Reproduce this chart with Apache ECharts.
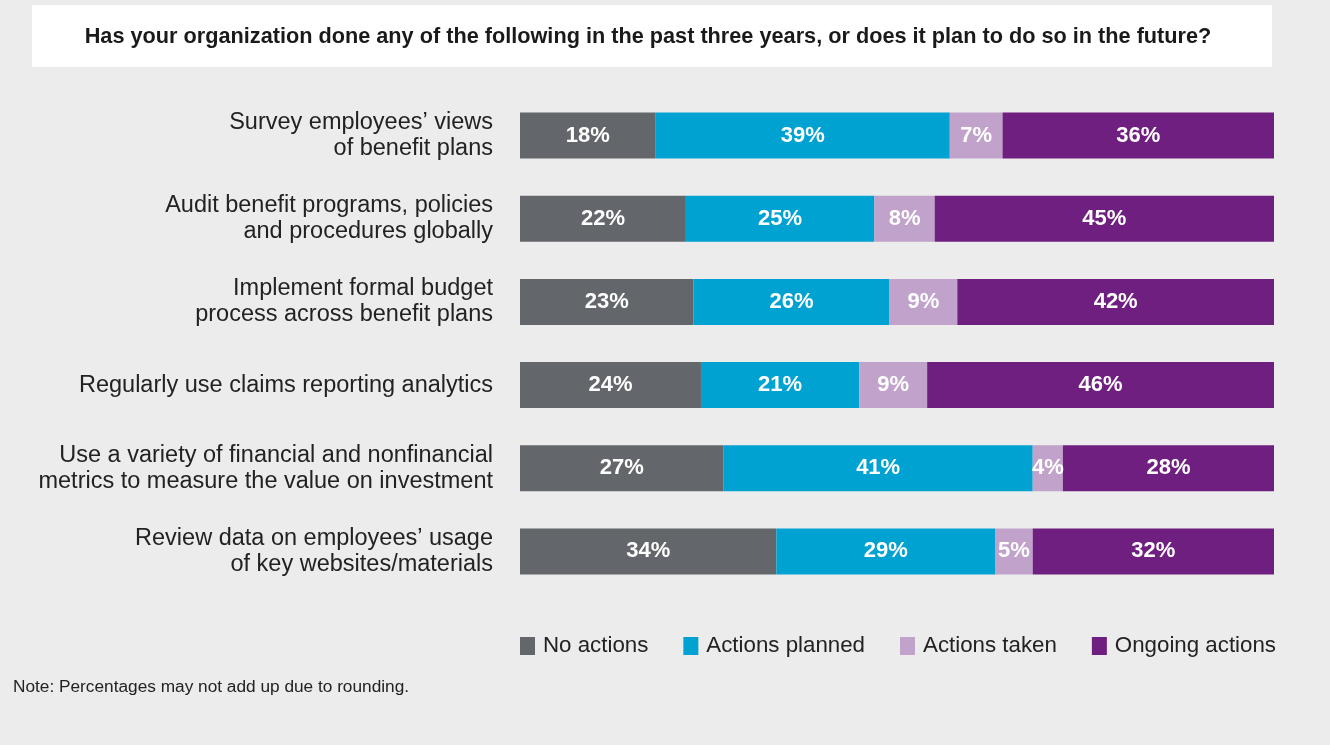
<!DOCTYPE html>
<html>
<head>
<meta charset="utf-8">
<style>
html,body{margin:0;padding:0;background:#ececec;}
#chart{width:1330px;height:745px;}
</style>
<script src="https://cdn.jsdelivr.net/npm/echarts@6/dist/echarts.min.js"></script>
</head>
<body>
<div id="chart"></div>
<script>
const titleText = 'Has your organization done any of the following in the past three years, or does it plan to do so in the future?';
const noteText = 'Note: Percentages may not add up due to rounding.';
const categories = [
  'Survey employees\u2019 views\nof benefit plans',
  'Audit benefit programs, policies\nand procedures globally',
  'Implement formal budget\nprocess across benefit plans',
  'Regularly use claims reporting analytics',
  'Use a variety of financial and nonfinancial\nmetrics to measure the value on investment',
  'Review data on employees\u2019 usage\nof key websites/materials'
];
const seriesNames = ['No actions', 'Actions planned', 'Actions taken', 'Ongoing actions'];
const noActions = [18, 22, 23, 24, 27, 34];
const actionsPlanned = [39, 25, 26, 21, 41, 29];
const actionsTaken = [7, 8, 9, 9, 4, 5];
const ongoingActions = [36, 45, 42, 46, 28, 32];
const colors = ['#63666a', '#00a2d2', '#c0a2cb', '#6e1f7f'];

const FONT = '"Liberation Sans", Arial, Helvetica, sans-serif';
const values = [noActions, actionsPlanned, actionsTaken, ongoingActions];

const chart = echarts.init(document.getElementById('chart'), null, {renderer: 'canvas'});
chart.setOption({
  backgroundColor: '#ececec',
  animation: false,
  textStyle: {fontFamily: FONT},
  graphic: [
    {type: 'rect', shape: {x: 32, y: 5, width: 1240, height: 62}, style: {fill: '#ffffff'}, z: 0},
    {type: 'text', x: 648, y: 37, style: {text: titleText, fill: '#1a1a1a', font: 'bold 21.7px ' + FONT, align: 'center', verticalAlign: 'middle'}, z: 1},
    {type: 'text', x: 13, y: 687, style: {text: noteText, fill: '#222222', font: '17.25px ' + FONT, align: 'left', verticalAlign: 'middle'}, z: 1}
  ],
  legend: {
    data: seriesNames,
    left: 520,
    top: 635,
    padding: 0,
    itemWidth: 15,
    itemHeight: 18,
    itemGap: 35,
    icon: 'rect',
    textStyle: {fontSize: 22.3, color: '#222222', fontFamily: FONT, padding: [0, 0, 0, 3]}
  },
  grid: {left: 520, right: 56, top: 94, height: 499, containLabel: false},
  xAxis: {type: 'value', min: 0, max: 100, show: false},
  yAxis: {
    type: 'category',
    data: categories,
    inverse: true,
    axisLine: {show: false},
    axisTick: {show: false},
    axisLabel: {fontSize: 23.5, color: '#222222', lineHeight: 26, margin: 27, fontFamily: FONT, align: 'right'}
  },
  series: seriesNames.map((name, i) => ({
    name: name,
    type: 'bar',
    stack: 'total',
    barWidth: 46,
    data: values[i],
    itemStyle: {color: colors[i]},
    label: {
      show: true,
      position: 'inside',
      formatter: '{c}%',
      color: '#ffffff',
      fontSize: 22,
      fontWeight: 'bold',
      fontFamily: FONT
    }
  }))
});
</script>
</body>
</html>
